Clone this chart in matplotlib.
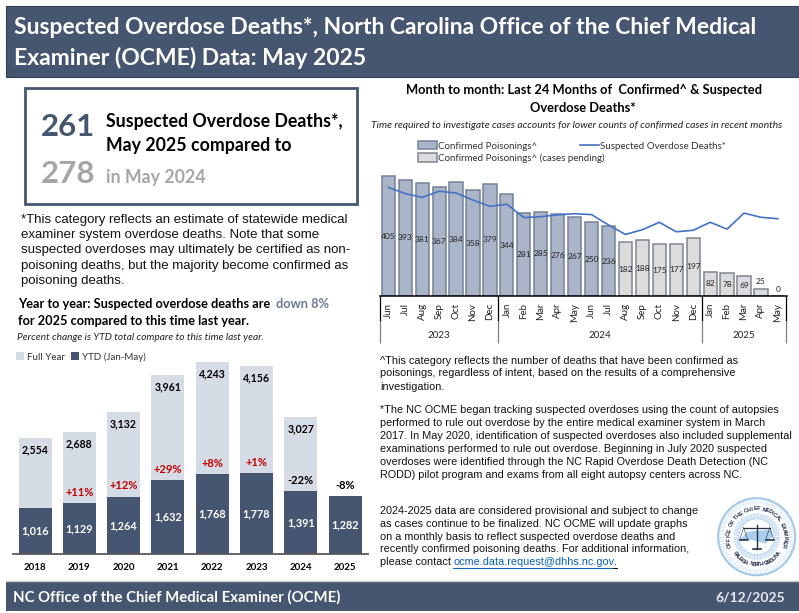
import numpy as np
import matplotlib
matplotlib.use("Agg")
import matplotlib.pyplot as plt
from matplotlib.patches import Rectangle, Circle, Polygon

NARROW = ["Lato", "DejaVu Sans"]
ARIAL = ["Liberation Sans"]
CALIBRI = ["Lato", "DejaVu Sans"]
NAVY = "#465670"

# yearly chart
years = ["2018", "2019", "2020", "2021", "2022", "2023", "2024", "2025"]
full_year = [2554, 2688, 3132, 3961, 4243, 4156, 3027, np.nan]
ytd = [1016, 1129, 1264, 1632, 1768, 1778, 1391, 1282]
pct_change = ["", "+11%", "+12%", "+29%", "+8%", "+1%", "-22%", "-8%"]

# monthly chart
months = ["Jun", "Jul", "Aug", "Sep", "Oct", "Nov", "Dec",
          "Jan", "Feb", "Mar", "Apr", "May", "Jun", "Jul", "Aug", "Sep", "Oct", "Nov", "Dec",
          "Jan", "Feb", "Mar", "Apr", "May"]
confirmed = [405, 393, 381, 367, 384, 358, 379, 344, 281, 285, 276, 267, 250, 236,
             182, 188, 175, 177, 197, 82, 78, 69, 25, 0]
suspected = [367, 346, 333, 354, 348, 324, 303, 310, 265, 268, 274, 278, 275, 240,
             208, 224, 249, 217, 222, 249, 226, 280, 266, 261]
n_final = 14  # months from Aug 2024 on are still pending
year_groups = ["2023", "2024", "2025"]
year_counts = [7, 12, 5]

W, H = 799, 613
fig = plt.figure(figsize=(W / 100, H / 100), dpi=100)
bg = fig.add_axes([0, 0, 1, 1])
bg.set_xlim(0, W)
bg.set_ylim(H, 0)
bg.axis("off")


def px_axes(x0, x1, y_top, y_bottom):
    ax = fig.add_axes([x0 / W, 1 - y_bottom / H, (x1 - x0) / W, (y_bottom - y_top) / H])
    ax.patch.set_alpha(0)
    return ax


def block(x, y, dy, lines, **kw):
    for i, line in enumerate(lines):
        bg.text(x, y + i * dy, line, va="center", **kw)


# header and footer
bg.add_patch(Rectangle((6, 6), 793, 71, fc=NAVY, ec="#333f52", lw=0.8))
block(14, 28, 30, ["Suspected Overdose Deaths*, North Carolina Office of the Chief Medical",
                   "Examiner (OCME) Data: May 2025"],
      family=NARROW, weight="bold", size=16.5, color="white")
bg.add_patch(Rectangle((6, 581), 793, 30, fc=NAVY, ec="none"))
bg.plot([6, 799], [580.5, 580.5], color="#c9c9c9", lw=1)
bg.text(13, 597, "NC Office of the Chief Medical Examiner (OCME)", family=NARROW, weight="bold",
        size=10.7, color="white", va="center")
bg.text(785, 597, "6/12/2025", family=CALIBRI, weight="bold", size=10, color="#e6e9ee",
        va="center", ha="right")

# summary box
bg.add_patch(Rectangle((24.5, 88), 332, 116, fc="white", ec=NAVY, lw=2))
bg.text(41, 127, "261", family=NARROW, weight="bold", size=22.5, color=NAVY, va="center")
bg.text(41, 174, "278", family=NARROW, weight="bold", size=22.5, color="#a6a6a6", va="center")
block(106, 122, 23, ["Suspected Overdose Deaths*,", "May 2025 compared to"],
      family=NARROW, weight="bold", size=12.8, color="black")
bg.text(106, 177, "in May 2024", family=NARROW, weight="bold", size=12.8, color="#a6a6a6", va="center")

block(21, 219.5, 15.4, ["*This category reflects an estimate of statewide medical",
                        "examiner system overdose deaths. Note that some",
                        "suspected overdoses may ultimately be certified as non-",
                        "poisoning deaths, but the majority become confirmed as",
                        "poisoning deaths."],
      family=ARIAL, size=9.5, color="#111111")

block(18, 304, 17, ["Year to year: Suspected overdose deaths are",
                    "for 2025 compared to this time last year."],
      family=NARROW, weight="bold", size=9.2, color="black")
bg.text(276, 304, "down 8%", family=NARROW, weight="bold", size=9.2, color="#6b7a94", va="center")
bg.text(17, 338, "Percent change is YTD total compare to this time last year.",
        family=CALIBRI, style="italic", size=7.3, color="#222222", va="center")

# yearly chart
ax1 = px_axes(13, 368, 350, 554)
xs = np.arange(len(years))
ax1.bar(xs, full_year, width=0.745, color="#d6dce5", label="Full Year")
ax1.bar(xs, ytd, width=0.745, color=NAVY, label="YTD (Jan-May)")
ax1.set_xlim(-0.497, 7.517)
ax1.set_ylim(0, 204 / 0.0453)
for i in xs:
    if not np.isnan(full_year[i]):
        ax1.annotate(f"{full_year[i]:,}", (i, full_year[i]), xytext=(0, -8.5), textcoords="offset points",
                     ha="center", va="center", family=CALIBRI, weight="bold", size=7.6, color="black")
    ax1.text(i, ytd[i] / 2, f"{ytd[i]:,}", ha="center", va="center", family=CALIBRI, weight="bold",
             size=7.8, color="white")
    if pct_change[i]:
        col = "#c00000" if pct_change[i].startswith("+") else "black"
        ax1.annotate(pct_change[i], (i, ytd[i]), xytext=(0, 7.8), textcoords="offset points",
                     ha="center", va="center", family=CALIBRI, weight="bold", size=8, color=col)
ax1.set_xticks(xs, years, family=CALIBRI, weight="bold", size=7, color="black")
ax1.set_yticks([])
ax1.tick_params(axis="x", length=0, pad=6.5)
for s in ["top", "left", "right"]:
    ax1.spines[s].set_visible(False)
ax1.spines["bottom"].set_color("#595959")
ax1.spines["bottom"].set_linewidth(1.3)
ax1.legend(loc="upper left", bbox_to_anchor=(3 / 355, 1.0 - 2 / 204), ncols=2, frameon=False, borderpad=0,
           borderaxespad=0, handlelength=0.85, handleheight=0.85, handletextpad=0.3, columnspacing=0.6,
           prop={"family": CALIBRI, "size": 7}, labelcolor="#333333")

# monthly chart
bg.text(583.5, 90, "Month to month: Last 24 Months of  Confirmed^ & Suspected", family=NARROW, weight="bold",
        size=9.3, ha="center", va="center")
bg.text(583, 108, "Overdose Deaths*", family=NARROW, weight="bold", size=9.3, ha="center", va="center")
bg.text(371, 126, "Time required to investigate cases accounts for lower counts of confirmed cases in recent months",
        family=CALIBRI, style="italic", size=7.35, color="#222222", va="center")

ax2 = px_axes(380, 786.7, 170, 296)
PX = 0.296
xm = np.arange(len(months))
ax2.bar(xm[:n_final], confirmed[:n_final], width=0.78, color="#abb5c9", edgecolor="#75829a", lw=1.1,
        label="Confirmed Poisonings^")
ax2.bar(xm[n_final:], confirmed[n_final:], width=0.78, color="#dcdcdc", edgecolor="#7f8794", lw=1.1,
        label="Confirmed Poisonings^ (cases pending)")
ax2.plot(xm, suspected, color="#4472c4", lw=1.2, label="Suspected Overdose Deaths*")
ax2.set_xlim(-0.49, 23.52)
ax2.set_ylim(0, 126 / PX)
for i in xm:
    if confirmed[i] < 40:
        ax2.annotate(str(confirmed[i]), (i, confirmed[i]), xytext=(0, 5), textcoords="offset points",
                     ha="center", va="center", family=CALIBRI, size=6, color="#222222")
    else:
        ax2.text(i, confirmed[i] / 2, str(confirmed[i]), ha="center", va="center", family=CALIBRI,
                 size=6, color="#222222")
ax2.set_xticks(xm, months, rotation=90, family=CALIBRI, size=7, color="#222222")
ax2.set_yticks([])
ax2.tick_params(axis="x", length=0, pad=5)
for s in ["top", "left", "right"]:
    ax2.spines[s].set_visible(False)
ax2.spines["bottom"].set_color("black")
ax2.spines["bottom"].set_linewidth(1.1)

start = -0.5
edges = [start]
for name, cnt in zip(year_groups, year_counts):
    ax2.text(start + cnt / 2, -39.7 / PX, name, ha="center", va="center", family=CALIBRI, size=7, color="#222222")
    start += cnt
    edges.append(start)
ax2.vlines(edges, -25 / PX, 0, color="black", lw=0.9, clip_on=False)
ax2.vlines(edges, -47 / PX, -25 / PX, color="#7f7f7f", lw=0.9, clip_on=False)

hs, ls = ax2.get_legend_handles_labels()
order = [ls.index("Confirmed Poisonings^"), ls.index("Confirmed Poisonings^ (cases pending)"),
         ls.index("Suspected Overdose Deaths*")]
ax2.legend([hs[i] for i in order], [ls[i] for i in order], loc="upper left", ncols=2, frameon=False,
           bbox_to_anchor=(38 / 406.7, 1 + 29 / 126), borderpad=0, borderaxespad=0, handlelength=1.95,
           handleheight=0.95, handletextpad=0.15, columnspacing=-2.6, labelspacing=0.3,
           prop={"family": CALIBRI, "size": 7}, labelcolor="#333333")

# notes
block(380, 360.5, 13, ["^This category reflects the number of deaths that have been confirmed as",
                       "poisonings, regardless of intent, based on the results of a comprehensive",
                       "investigation."],
      family=ARIAL, size=7.85, color="#111111")
block(380, 410, 12.9, ["*The NC OCME began tracking suspected overdoses using the count of autopsies",
                       "performed to rule out overdose by the entire medical examiner system in March",
                       "2017. In May 2020, identification of suspected overdoses also included supplemental",
                       "examinations performed to rule out overdose. Beginning in July 2020 suspected",
                       "overdoses were identified through the NC Rapid Overdose Death Detection (NC",
                       "RODD) pilot program and exams from all eight autopsy centers across NC."],
      family=ARIAL, size=7.85, color="#111111")
block(380, 511, 12.8, ["2024-2025 data are considered provisional and subject to change",
                       "as cases continue to be finalized. NC OCME will update graphs",
                       "on a monthly basis to reflect suspected overdose deaths and",
                       "recently confirmed poisoning deaths. For additional information,",
                       "please contact"],
      family=ARIAL, size=7.85, color="#111111")
bg.text(453, 562.3, "ocme.data.request@dhhs.nc.gov", family=ARIAL, size=7.85, color="#0563c1", va="center")
bg.text(614, 562.3, ".", family=ARIAL, size=7.85, color="black", va="center")
bg.plot([453, 613], [567.5, 567.5], color="#0563c1", lw=0.7)
bg.plot([613, 616.5], [567.5, 567.5], color="black", lw=0.7)

# seal
cx, cy = 756.7, 536.7
bg.add_patch(Circle((cx, cy), 38.5, fc="white", ec="#a3c8e6", lw=1.6))
for a in np.radians(np.arange(0, 360, 4)):
    bg.plot([cx + 33 * np.cos(a), cx + 37.5 * np.cos(a)], [cy + 33 * np.sin(a), cy + 37.5 * np.sin(a)],
            color="#d3e5f4", lw=0.7)
    bg.plot([cx + 18 * np.cos(a), cx + 23 * np.cos(a)], [cy + 18 * np.sin(a), cy + 23 * np.sin(a)],
            color="#c3dcf0", lw=0.7)
bg.add_patch(Circle((cx, cy), 18, fc="white", ec="#a3c8e6", lw=0.5))

top_text = "OFFICE OF THE CHIEF MEDICAL EXAMINER"
for ch, a in zip(top_text, np.linspace(198, -18, len(top_text))):
    r = np.radians(a)
    bg.text(cx + 28 * np.cos(r), cy - 28 * np.sin(r), ch, rotation=a - 90, rotation_mode="anchor", ha="center",
            va="center", family=ARIAL, weight="bold", size=4, color="#26324a")
low_text = "RALEIGH, NORTH CAROLINA"
for ch, a in zip(low_text, np.linspace(218, 322, len(low_text))):
    r = np.radians(a)
    bg.text(cx + 28 * np.cos(r), cy - 28 * np.sin(r), ch, rotation=a + 90, rotation_mode="anchor", ha="center",
            va="center", family=ARIAL, weight="bold", size=4, color="#26324a")

bg.add_patch(Polygon([(cx - 17, cy + 4), (cx - 10, cy - 5), (cx + 1, cy - 6), (cx + 15, cy - 7), (cx + 16, cy - 1),
                      (cx + 9, cy + 7), (cx + 2, cy + 5), (cx - 6, cy + 3)], fc="#a9cdea", ec="none"))
bg.plot([cx - 13, cx + 13], [cy - 9, cy - 9], color="#26324a", lw=0.9)
bg.plot([cx, cx], [cy - 12, cy + 12], color="#26324a", lw=1)
bg.plot([cx - 4, cx + 4], [cy + 12, cy + 12], color="#26324a", lw=1.2)
for side in (-1, 1):
    bg.plot([cx + side * 13, cx + side * 9, cx + side * 17, cx + side * 13],
            [cy - 9, cy + 3, cy + 3, cy - 9], color="#26324a", lw=0.4)
    bg.plot([cx + side * 9, cx + side * 17], [cy + 3.5, cy + 3.5], color="#26324a", lw=1.1)

fig.savefig("out.png", dpi=100)
